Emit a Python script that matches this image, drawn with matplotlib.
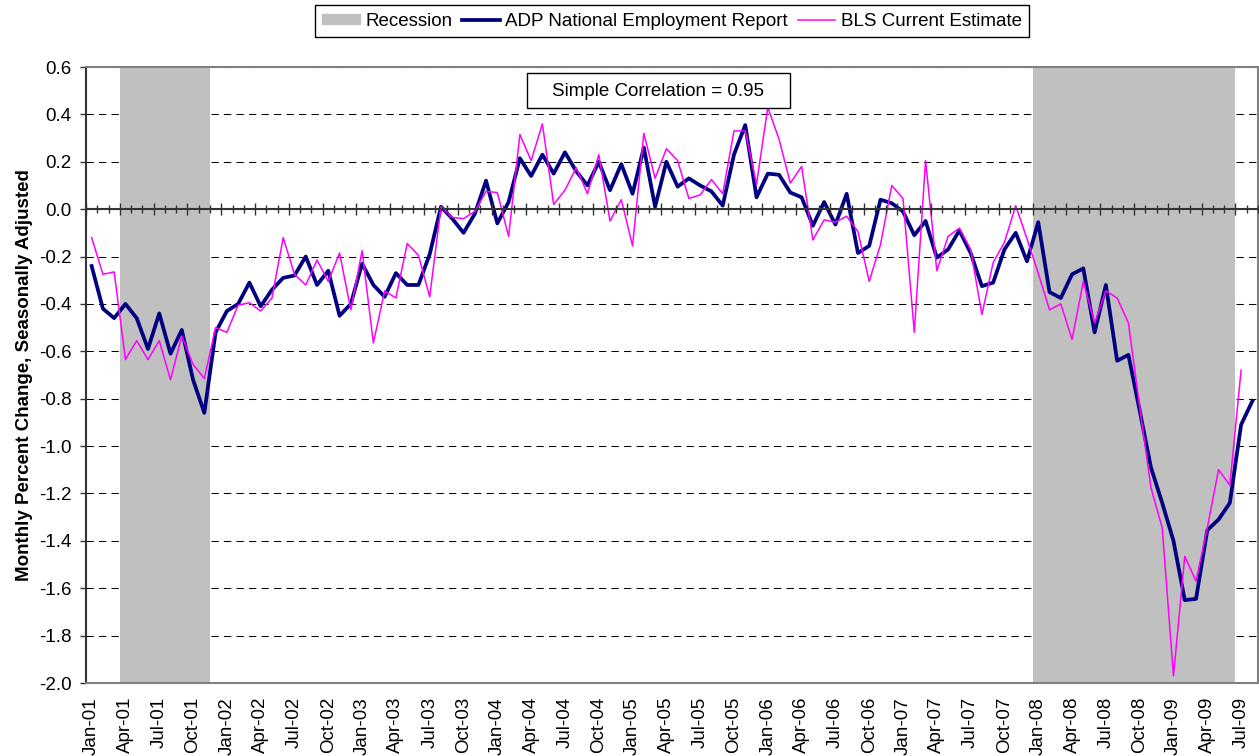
import matplotlib
matplotlib.use('Agg')
import matplotlib.pyplot as plt
from matplotlib.patches import Patch, Rectangle
from matplotlib.lines import Line2D
import numpy as np
import pandas as pd

plt.rcParams['font.family'] = ['Liberation Sans', 'DejaVu Sans']

# monthly categories, Jan-01 .. Aug-09
months = list(pd.date_range('2001-01-01', periods=104, freq='MS').strftime('%b-%y'))

# ADP National Employment Report, monthly % change (Jan-01 .. Aug-09)
adp = [-0.24, -0.42, -0.46, -0.40, -0.46, -0.59, -0.44, -0.61, -0.51, -0.72, -0.86, -0.52,
       -0.43, -0.40, -0.31, -0.41, -0.34, -0.29, -0.28, -0.20, -0.32, -0.26, -0.45, -0.40,
       -0.23, -0.32, -0.37, -0.27, -0.32, -0.32, -0.19, 0.01, -0.04, -0.10, -0.02, 0.12,
       -0.06, 0.03, 0.215, 0.14, 0.23, 0.15, 0.24, 0.16, 0.10, 0.20, 0.08, 0.19,
       0.065, 0.26, 0.01, 0.20, 0.095, 0.13, 0.10, 0.075, 0.015, 0.23, 0.355, 0.05,
       0.15, 0.145, 0.07, 0.05, -0.07, 0.03, -0.065, 0.065, -0.185, -0.155, 0.04, 0.025,
       -0.01, -0.11, -0.05, -0.205, -0.17, -0.09, -0.185, -0.325, -0.31, -0.17, -0.10, -0.22,
       -0.055, -0.35, -0.375, -0.275, -0.25, -0.52, -0.32, -0.64, -0.615, -0.85, -1.09, -1.24,
       -1.40, -1.65, -1.645, -1.355, -1.31, -1.24, -0.91, -0.81]

# BLS current estimate, monthly % change (Jan-01 .. Jul-09)
bls = [-0.12, -0.275, -0.265, -0.635, -0.555, -0.635, -0.555, -0.72, -0.535, -0.655, -0.715, -0.50,
       -0.52, -0.405, -0.395, -0.43, -0.375, -0.12, -0.275, -0.32, -0.215, -0.305, -0.185, -0.425,
       -0.175, -0.565, -0.345, -0.375, -0.145, -0.195, -0.37, 0.01, -0.035, -0.04, -0.01, 0.075,
       0.07, -0.115, 0.315, 0.205, 0.36, 0.02, 0.08, 0.175, 0.065, 0.23, -0.05, 0.04,
       -0.155, 0.32, 0.13, 0.255, 0.205, 0.045, 0.06, 0.125, 0.065, 0.33, 0.33, 0.105,
       0.43, 0.295, 0.11, 0.18, -0.13, -0.045, -0.055, -0.03, -0.095, -0.305, -0.15, 0.10,
       0.045, -0.52, 0.205, -0.26, -0.115, -0.08, -0.17, -0.445, -0.225, -0.14, 0.015, -0.125,
       -0.27, -0.425, -0.40, -0.55, -0.305, -0.48, -0.345, -0.375, -0.48, -0.835, -1.175, -1.345,
       -1.97, -1.465, -1.57, -1.345, -1.10, -1.165, -0.68]

recessions = [('Apr-01', 'Nov-01'), ('Jan-08', 'Jun-09')]
y_ticks = np.round(np.arange(-2.0, 0.61, 0.2), 1) + 0.0
correlation = 0.95

FS = 13.5

fig = plt.figure(figsize=(12.59, 7.56), dpi=100)
W, H = 1259, 756
ax = fig.add_axes([86 / W, 1 - 683 / H, (1258 - 86) / W, (683 - 67) / H])

for start, end in recessions:
    ax.axvspan(months.index(start) - 0.5, months.index(end) + 0.5,
               color='#c0c0c0', lw=0, zorder=1)

ax.plot(np.arange(len(adp)), adp, color='#000080', lw=2.7, zorder=4)
ax.plot(np.arange(len(bls)), bls, color='#ff00ff', lw=1.1, zorder=5)

ax.set_xlim(-0.5, len(months) - 0.5)
ax.set_ylim(-2.0, 0.6)

ax.set_yticks(y_ticks)
ax.set_yticklabels([f'{v:.1f}' for v in y_ticks], fontsize=FS)
ax.tick_params(axis='y', direction='out', length=4.5, width=1, color='#333333', pad=6)
ax.yaxis.grid(True, color='black', lw=0.75, ls=(0, (7, 5)))
ax.set_axisbelow(True)

ax.set_xticks(range(0, len(months), 3))
ax.set_xticklabels(months[::3], rotation=90, fontsize=FS)
ax.tick_params(axis='x', length=0, pad=10)

for side in ['top', 'right', 'bottom']:
    ax.spines[side].set_color('#808080')
    ax.spines[side].set_linewidth(1.5)
ax.spines['left'].set_color('#333333')
ax.spines['left'].set_linewidth(1.5)

ax.set_ylabel('Monthly Percent Change, Seasonally Adjusted', fontsize=FS, fontweight='bold')
ax.yaxis.set_label_coords((33 - 86) / (1258 - 86), 0.5)

# zero axis with month tick marks
ax2 = ax.twiny()
ax2.set_xlim(ax.get_xlim())
ax2.xaxis.set_ticks_position('bottom')
ax2.spines['bottom'].set_position(('data', 0))
ax2.spines['bottom'].set_color('#333333')
ax2.spines['bottom'].set_linewidth(1.5)
for side in ['top', 'left', 'right']:
    ax2.spines[side].set_visible(False)
ax2.set_xticks(np.arange(-0.5, len(months), 3))
ax2.set_xticks(np.arange(-0.5, len(months), 1), minor=True)
ax2.tick_params(axis='x', which='major', direction='inout', length=8, width=1,
                color='#333333', labelbottom=False, labeltop=False)
ax2.tick_params(axis='x', which='minor', direction='inout', length=6, width=1,
                color='#333333')

# correlation note
ax.add_patch(Rectangle(((527 - 86) / 1172, (683 - 108) / 616), 263 / 1172, 35 / 616,
                       transform=ax.transAxes, facecolor='white', edgecolor='black',
                       lw=1, zorder=6))
ax.text((658 - 86) / 1172, (683 - 91) / 616, f'Simple Correlation = {correlation}',
        transform=ax.transAxes, ha='center', va='center', fontsize=FS, zorder=7)

handles = [Patch(color='#c0c0c0'),
           Line2D([], [], color='#000080', lw=2.7),
           Line2D([], [], color='#ff00ff', lw=1.1)]
labels = ['Recession', 'ADP National Employment Report', 'BLS Current Estimate']
leg = fig.legend(handles, labels, loc='upper center', bbox_to_anchor=(672 / W, 1 - 5 / H),
                 ncol=3, fancybox=False, edgecolor='black', fontsize=FS,
                 handlelength=2.0, handleheight=0.5, handletextpad=0.27,
                 columnspacing=0.55, borderpad=0.4, borderaxespad=0, framealpha=1)
leg.get_frame().set_linewidth(1.0)

fig.savefig('out.png', dpi=100)
